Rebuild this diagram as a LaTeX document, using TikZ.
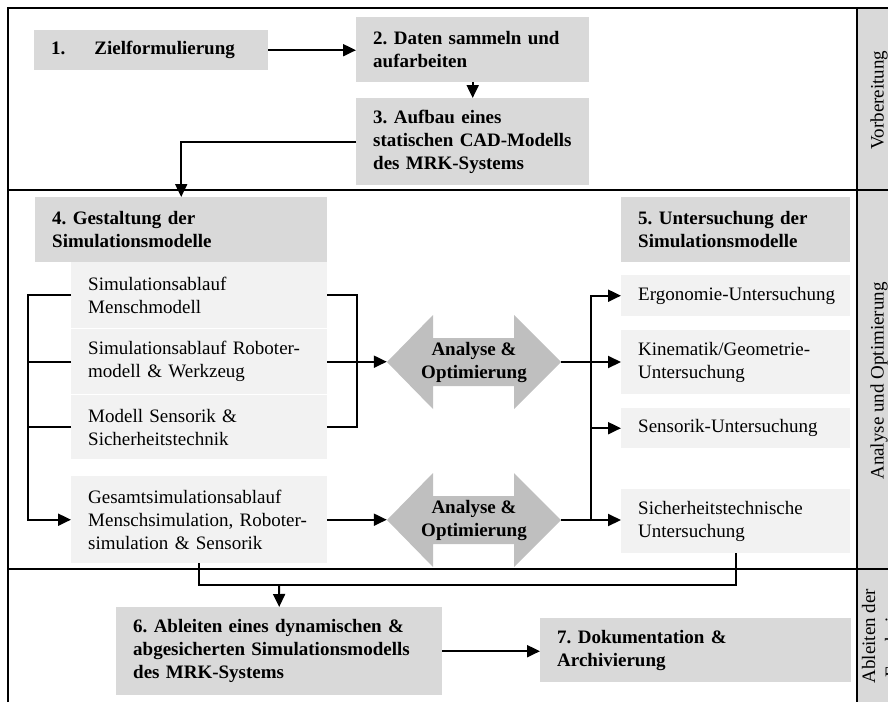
\documentclass[tikz,border=0pt]{standalone}
\usepackage{fontspec}
\setmainfont{Liberation Serif}
\usetikzlibrary{arrows.meta}
\definecolor{boxgray}{HTML}{D9D9D9}
\definecolor{subgray}{HTML}{F2F2F2}
\definecolor{arrgray}{HTML}{BFBFBF}

\begin{document}
\begin{tikzpicture}[x=1pt, y=-1pt,
    font=\fontsize{19}{23}\selectfont\frenchspacing,
    stepbox/.style={fill=boxgray, anchor=north west, inner xsep=17pt, inner ysep=0pt,
        align=left, font=\fontsize{19}{23}\selectfont\frenchspacing\bfseries},
    subbox/.style={fill=subgray, anchor=north west, inner xsep=17pt, inner ysep=0pt, align=left},
    conn/.style={line width=2pt},
    flow/.style={conn, -{Triangle[length=13pt,width=12pt]}},
    frame/.style={line width=2.4pt},
    phase/.style={rotate=90, inner sep=0pt}]
    \useasboundingbox (0,0) rectangle (888,702);

    % Phase strip
    \fill[boxgray] (857,8) rectangle (888,702);
    \draw[frame] (8,702) -- (8,8) -- (888,8);
    \draw[frame] (8,190) -- (888,190);
    \draw[frame] (8,569) -- (888,569);
    \draw[frame] (857,8) -- (857,702);
    \node[phase] (vb) at (879,100) {Vorbereitung};
    \node[phase] (ao) at (879,381) {Analyse und Optimierung};
    \begin{scope}
        \clip (857,569) rectangle (888,702);
        \node[phase, align=center] (ae) at (882,636) {Ableiten der\\Ergebnisse};
    \end{scope}

    % Preparation
    \node[stepbox, text width=200pt, minimum height=40pt] (z1) at (34,30)
        {1.\hspace{29pt}Zielformulierung};
    \node[stepbox, text width=199pt, minimum height=65pt] (d2) at (356,17)
        {2. Daten sammeln und\\aufarbeiten};
    \node[stepbox, text width=199pt, minimum height=87pt] (a3) at (356,98)
        {3. Aufbau eines\\statischen CAD-Modells\\des MRK-Systems};
    \draw[flow] (z1.east) -- (z1.east -| d2.west);
    \draw[flow] (d2) -- (a3);

    % Simulation models
    \node[stepbox, text width=258pt, minimum height=65pt] (g4) at (35,197)
        {4. Gestaltung der\\Simulationsmodelle};
    \node[subbox, text width=222pt, minimum height=66pt] (s1) at (71,262)
        {Simulationsablauf\\Menschmodell};
    \node[subbox, text width=222pt, minimum height=65pt] (s2) at (71,329)
        {Simulationsablauf Roboter-\\modell \& Werkzeug};
    \node[subbox, text width=222pt, minimum height=64pt] (s3) at (71,395)
        {Modell Sensorik \&\\Sicherheitstechnik};
    \node[subbox, text width=222pt, minimum height=87pt] (s4) at (71,476)
        {Gesamtsimulationsablauf\\Menschsimulation, Roboter-\\simulation \& Sensorik};
    \draw[flow] (a3.west) -| (g4.north);

    % Analyse arrows
    \fill[arrgray] (387,362) -- (433,315) -- (433,338) -- (514,338) -- (514,315) -- (561,362)
        -- (514,409) -- (514,386) -- (433,386) -- (433,409) -- cycle;
    \node[font=\fontsize{19}{23}\selectfont\bfseries, align=center, minimum width=174pt,
        inner sep=0pt] (a1) at (474,362) {Analyse \&\\Optimierung};
    \fill[arrgray] (387,520) -- (433,473) -- (433,496) -- (514,496) -- (514,473) -- (561,520)
        -- (514,567) -- (514,544) -- (433,544) -- (433,567) -- cycle;
    \node[font=\fontsize{19}{23}\selectfont\bfseries, align=center, minimum width=174pt,
        inner sep=0pt] (a2) at (474,520) {Analyse \&\\Optimierung};

    % Investigations
    \node[stepbox, text width=195pt, minimum height=65pt] (u5) at (621,197)
        {5. Untersuchung der\\Simulationsmodelle};
    \node[subbox, text width=195pt, minimum height=41pt] (e1) at (621,275)
        {\mbox{Ergonomie-Untersuchung}};
    \node[subbox, text width=195pt, minimum height=64pt] (k2) at (621,330)
        {Kinematik/Geometrie-\\Untersuchung};
    \node[subbox, text width=195pt, minimum height=40pt] (n3) at (621,408)
        {Sensorik-Untersuchung};
    \node[subbox, text width=195pt, minimum height=64pt] (h4) at (621,489)
        {Sicherheitstechnische\\Untersuchung};

    % Brackets and connectors
    \draw[flow] (s1.west) -- ++(-43,0) |- (s4.west);
    \draw[conn] (s2.west) -- ++(-43,0);
    \draw[conn] (s3.west) -- ++(-43,0);
    \draw[conn] (s1.east) -- ++(30,0) |- (s3.east);
    \draw[flow] (s2.east) -- (s2.east -| a1.west);
    \draw[flow] (s4.east) -- (s4.east -| a2.west);
    \coordinate (rb) at (591,0);
    \draw[flow] (h4.west -| rb) |- (e1.west);
    \draw[flow] (a1.east) -- (a1.east -| k2.west);
    \draw[flow] (n3.west -| rb) -- (n3.west);
    \draw[flow] (a2.east) -- (a2.east -| h4.west);

    % Results
    \node[stepbox, text width=292pt, minimum height=88pt] (a6) at (116,607)
        {6. Ableiten eines dynamischen \&\\abgesicherten Simulationsmodells\\des MRK-Systems};
    \node[stepbox, text width=277pt, minimum height=64pt] (d7) at (540,618)
        {7. Dokumentation \&\\Archivierung};
    \coordinate (jn) at (279,585);
    \draw[conn] (s4.south) |- (jn) -| (h4.south);
    \draw[flow] (jn) -- (a6.north);
    \draw[flow] (a6.east) -- (a6.east -| d7.west);
\end{tikzpicture}
\end{document}
